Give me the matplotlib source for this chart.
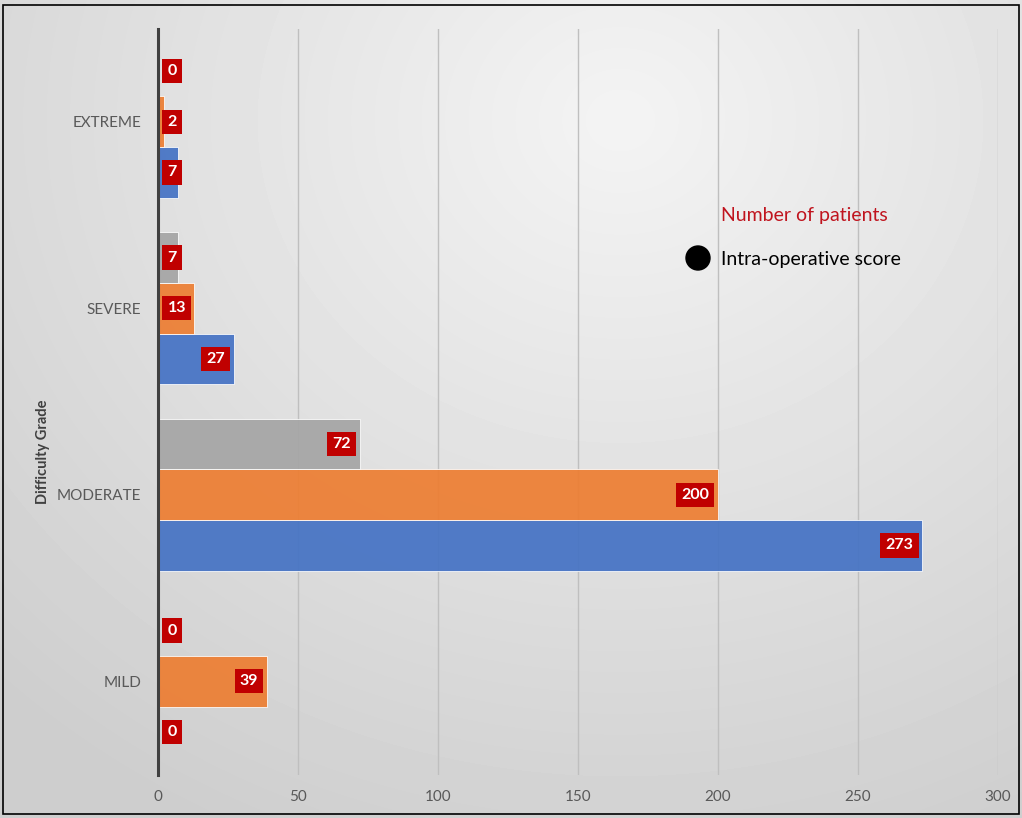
import numpy as np
import matplotlib
matplotlib.use("Agg")
import matplotlib.pyplot as plt
from matplotlib.patches import Rectangle, Circle

plt.rcParams['font.family'] = ['Lato', 'DejaVu Sans']

categories = ["MILD", "MODERATE", "SEVERE", "EXTREME"]
series_blue = [0, 273, 27, 7]
series_orange = [39, 200, 13, 2]
series_gray = [0, 72, 7, 0]
xticks = [0, 50, 100, 150, 200, 250, 300]

W, H = 1022, 818
fig = plt.figure(figsize=(W / 100, H / 100), dpi=100)

# background radial gradient
bg = fig.add_axes([0, 0, 1, 1], zorder=-10)
yy, xx = np.mgrid[0:H, 0:W]
cx, cy = 620, 120
r = np.sqrt(((xx - cx) / 900.0) ** 2 + ((yy - cy) / 800.0) ** 2)
r = np.clip(r, 0, 1)
val = 0.955 - 0.15 * r
bg.imshow(val, cmap='gray', vmin=0, vmax=1, aspect='auto', extent=[0, W, H, 0])
bg.set_xlim(0, W)
bg.set_ylim(H, 0)
bg.axis('off')
bg.add_patch(Rectangle((3, 5), W - 6, H - 9, fill=False, edgecolor='black', lw=1.2))

left, right = 158 / W, 998 / W
top, bottom = 1 - 28.5 / H, 1 - 774.5 / H
ax = fig.add_axes([left, bottom, right - left, top - bottom])
ax.patch.set_alpha(0)

y = np.arange(len(categories))
bh = 0.272
colors = ['#4472C4', '#ED7D31', '#A5A5A5']
allseries = [series_blue, series_orange, series_gray]
offsets = [-bh, 0, bh]
for s, c, off in zip(allseries, colors, offsets):
    ax.barh(y + off, s, height=bh, color=c, edgecolor='white', linewidth=0.6, zorder=3, alpha=0.92)

ax.set_xlim(0, 300)
ax.set_ylim(-0.5, 3.5)
ax.set_xticks(xticks)
ax.set_xticklabels([str(t) for t in xticks], color='#595959', fontsize=11)
ax.set_yticks(y)
ax.set_yticklabels(categories, color='#595959', fontsize=11)
ax.tick_params(axis='x', length=0, pad=11)
ax.tick_params(axis='y', length=0, pad=12)
ax.grid(axis='x', color='#bfbfbf', linewidth=1, zorder=0)
for sp in ['top', 'right', 'bottom']:
    ax.spines[sp].set_visible(False)
ax.spines['left'].set_color('#404040')
ax.spines['left'].set_linewidth(2.2)
ax.spines['left'].set_zorder(5)
ax.set_ylabel("Difficulty Grade", fontsize=10.5, fontweight='bold', color='#404040')
ax.yaxis.set_label_coords(-0.129, 0.432)

px_per_unit = (right - left) * W / 300.0
for s, off in zip(allseries, offsets):
    for yi, v in zip(y, s):
        txt = str(v)
        boxw = 10 + 9 * len(txt)
        if v * px_per_unit - 5 - boxw < 5:
            ax.annotate(txt, xy=(0, yi + off), xytext=(9.5 / 1.389, 0), textcoords='offset points',
                        ha='left', va='center', color='white', fontsize=11.5, fontweight='bold', zorder=6,
                        bbox=dict(boxstyle='square,pad=0.32', fc='#C00000', ec='none'))
        else:
            ax.annotate(txt, xy=(v, yi + off), xytext=(-9 / 1.389, 0), textcoords='offset points',
                        ha='right', va='center', color='white', fontsize=11.5, fontweight='bold', zorder=6,
                        bbox=dict(boxstyle='square,pad=0.32', fc='#C00000', ec='none'))

# legend-like annotations
fig.text(721 / W, 1 - 216 / H, "Number of patients", color='#C0141E', fontsize=14, va='center', ha='left')
fig.text(721 / W, 1 - 259 / H, "Intra-operative score", color='black', fontsize=14, va='center', ha='left')
bg.add_patch(Circle((698, 258), 12, color='black'))

fig.savefig("out.png", dpi=100)
